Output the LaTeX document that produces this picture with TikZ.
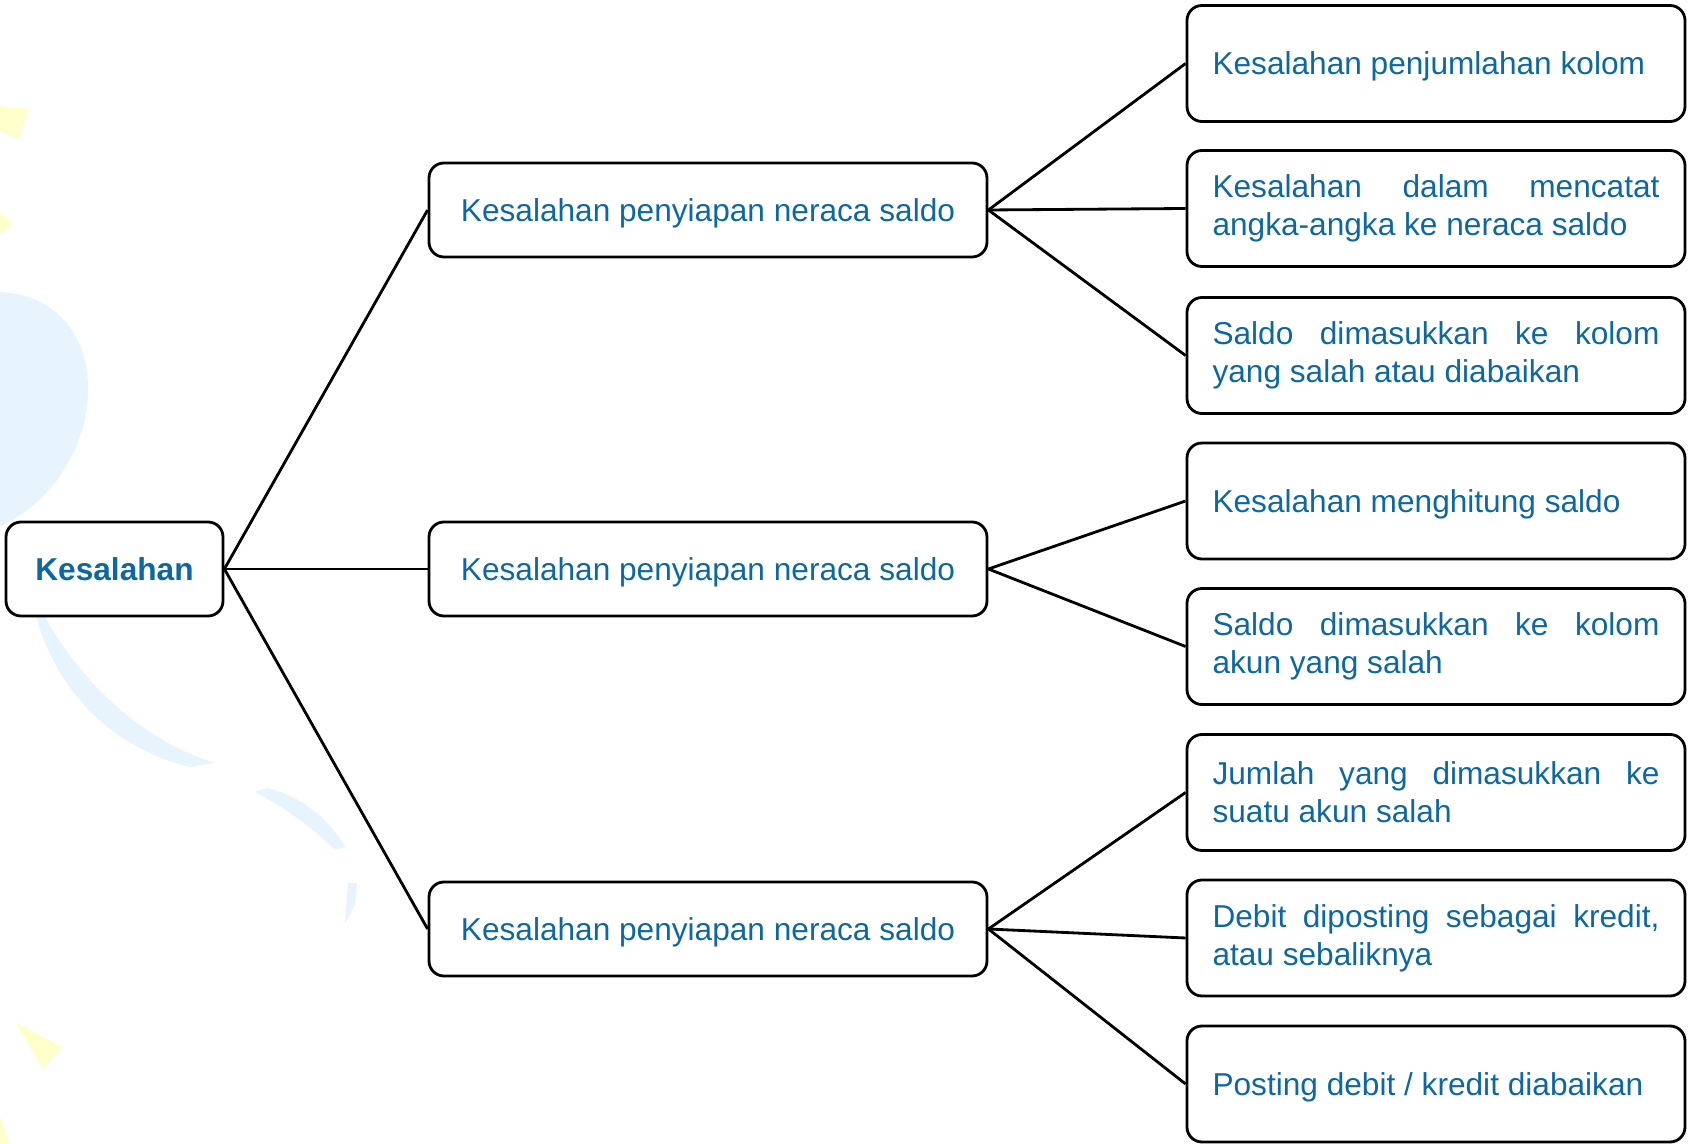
\documentclass[tikz,border=0pt]{standalone}
\usepackage{fontspec}
\setmainfont{Liberation Sans}
\tolerance=10000
\hyphenpenalty=10000
\exhyphenpenalty=10000

\definecolor{txtblue}{RGB}{14,104,160}
\definecolor{bgblue}{RGB}{232,244,253}
\definecolor{bgyellow}{RGB}{255,255,204}

\begin{document}
\begin{tikzpicture}[
    box/.style={draw, rounded corners=0.15cm, line width=0.8pt, text=txtblue,
        font=\fontsize{9}{10.9}\selectfont},
    rootbox/.style={box, minimum width=2.17cm, minimum height=0.94cm,
        font=\fontsize{9}{10.9}\selectfont\bfseries},
    midbox/.style={box, text depth=0pt, minimum width=5.58cm, minimum height=0.94cm},
    leafbox/.style={box, text width=4.47cm, align=justify, inner xsep=0.255cm,
        minimum height=1.16cm},
    oneline/.style={text depth=0pt},
    link/.style={line width=0.8pt}
]
    \useasboundingbox (0,0) rectangle (16.91,-11.44);

    % Background
    \fill[bgblue] (0,-2.92) .. controls (0.6,-2.95) and (0.9,-3.4) .. (0.88,-3.94)
        .. controls (0.85,-4.6) and (0.4,-5.1) .. (0,-5.26) -- cycle;
    \fill[bgblue] (0.45,-6.17) .. controls (0.8,-6.8) and (1.4,-7.4) .. (2.15,-7.63)
        -- (1.90,-7.67) .. controls (1.2,-7.5) and (0.6,-7.0) .. (0.36,-6.17) -- cycle;
    \fill[bgblue] (2.55,-7.92) -- (2.67,-7.88) .. controls (3.0,-7.95) and (3.3,-8.2) .. (3.45,-8.47)
        -- (3.35,-8.50) .. controls (3.1,-8.25) and (2.8,-8.05) .. cycle;
    \fill[bgblue] (3.48,-8.83) -- (3.57,-8.83) -- (3.55,-9.05) -- (3.45,-9.23) -- cycle;
    \fill[bgyellow] (0,-1.06) -- (0.29,-1.09) -- (0.18,-1.39) -- (0,-1.31) -- cycle;
    \fill[bgyellow] (0,-2.12) -- (0.13,-2.23) -- (0,-2.34) -- cycle;
    \fill[bgyellow] (0.15,-10.22) -- (0.62,-10.47) -- (0.43,-10.69) -- cycle;
    \fill[bgyellow] (0,-11.17) -- (0.10,-11.44) -- (0,-11.44) -- cycle;

    % Nodes
    \node[rootbox] (root) at (1.145,-5.69) {Kesalahan};

    \node[midbox] (m1) at (7.08,-2.10) {Kesalahan penyiapan neraca saldo};
    \node[midbox] (m2) at (7.08,-5.69) {Kesalahan penyiapan neraca saldo};
    \node[midbox] (m3) at (7.08,-9.29) {Kesalahan penyiapan neraca saldo};

    \node[leafbox, oneline] (r1) at (14.36,-0.635) {Kesalahan penjumlahan kolom};
    \node[leafbox] (r2) at (14.36,-2.085) {Kesalahan dalam mencatat angka-angka ke neraca saldo};
    \node[leafbox] (r3) at (14.36,-3.555) {Saldo dimasukkan ke kolom yang salah atau diabaikan};
    \node[leafbox, oneline] (r4) at (14.36,-5.01) {Kesalahan menghitung saldo};
    \node[leafbox] (r5) at (14.36,-6.465) {Saldo dimasukkan ke kolom akun yang salah};
    \node[leafbox] (r6) at (14.36,-7.925) {Jumlah yang dimasukkan ke suatu akun salah};
    \node[leafbox] (r7) at (14.36,-9.38) {Debit diposting sebagai kredit, atau sebaliknya};
    \node[leafbox, oneline] (r8) at (14.36,-10.84) {Posting debit / kredit diabaikan};

    % Lines
    \draw[link] (root.east) -- (m1.west);
    \draw[link] (root.east) -- (m2.west);
    \draw[link] (root.east) -- (m3.west);

    \draw[link] (m1.east) -- (r1.west);
    \draw[link] (m1.east) -- (r2.west);
    \draw[link] (m1.east) -- (r3.west);

    \draw[link] (m2.east) -- (r4.west);
    \draw[link] (m2.east) -- (r5.west);

    \draw[link] (m3.east) -- (r6.west);
    \draw[link] (m3.east) -- (r7.west);
    \draw[link] (m3.east) -- (r8.west);
\end{tikzpicture}
\end{document}
